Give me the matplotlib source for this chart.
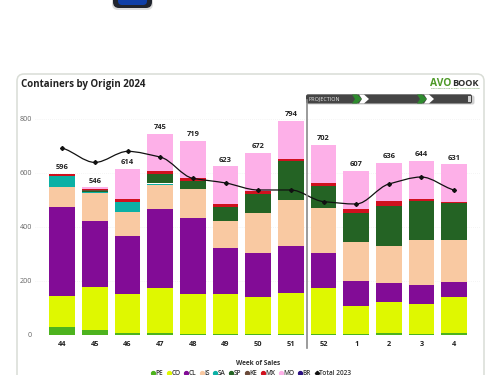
import matplotlib
matplotlib.use("Agg")
import matplotlib.pyplot as plt
from matplotlib.patches import FancyBboxPatch, Polygon, Rectangle
from matplotlib.path import Path
from matplotlib.patches import PathPatch
from matplotlib.lines import Line2D
import numpy as np

plt.rcParams['font.family'] = ['Open Sans', 'DejaVu Sans']

weeks = ['44','45','46','47','48','49','50','51','52','1','2','3','4']
PE = [30,16,6,6,2,3,2,2,2,1,5,1,6]
CO = [114,161,144,167,147,146,139,151,171,104,117,111,135]
CL = [330,245,217,291,284,172,163,175,128,95,69,71,54]
IS = [72,104,89,89,105,100,147,171,167,144,139,166,154]
SA = [43,4,35,7,0,0,0,0,0,0,0,0,0]
SP = [0,2,0,34,32,51,70,144,83,108,148,146,137]
KE = [0,3,0,0,0,0,0,0,0,0,0,0,0]
MX = [7,5,10,11,9,11,10,9,9,13,17,7,4]
MO = [0,6,113,140,140,140,141,141,142,142,141,142,141]
BR = [0,0,0,0,0,0,0,0,0,0,0,0,0]
totals = [596,546,614,745,719,623,672,794,702,607,636,644,631]
total_2023 = [691,638,679,658,579,562,536,536,493,484,558,584,536]
origin_names = ['PE','CO','CL','IS','SA','SP','KE','MX','MO','BR']
origin_values = [PE,CO,CL,IS,SA,SP,KE,MX,MO,BR]
origin_colors = ['#4DB31E','#DFF800','#820C96','#F9C9A2','#0BB0A5','#246324','#6B4A3A','#D0101E','#FDB0E8','#2A0F80']
tick_vals = [0,200,400,600,800]

W, H = 500, 375
fig = plt.figure(figsize=(5,3.75), dpi=100, facecolor='white')

bg = fig.add_axes([0,0,1,1], zorder=0)
bg.set_xlim(0,W); bg.set_ylim(H,0); bg.axis('off')
bg.add_patch(FancyBboxPatch((17,74),467,320,boxstyle='round,pad=0,rounding_size=7',
                            fc='white', ec='#D9DDD6', lw=1.1))
bg.add_patch(FancyBboxPatch((112,-10),41,20,boxstyle='round,pad=0,rounding_size=6',
                            fc='#DDDDDD', ec='none'))
bg.add_patch(FancyBboxPatch((113,-10),39,18,boxstyle='round,pad=0,rounding_size=6',
                            fc='#20242E', ec='none'))
bg.add_patch(FancyBboxPatch((118,-10),29,15,boxstyle='round,pad=0,rounding_size=4',
                            fc='#0F3FA8', ec='none'))
bg.text(21,84,'Containers by Origin 2024',fontsize=7,fontweight='bold',color='#222222',va='center',ha='left')

ax = fig.add_axes([35/W,(H-334.7)/H,445/W,216/H], zorder=1)
ax.patch.set_alpha(0)
ax.set_xlim((35-62.3)/32.65,(480-62.3)/32.65)
ax.set_ylim(0,800)
x = np.arange(len(weeks))
bottom = np.zeros(len(weeks))
for name,vals,c in zip(origin_names,origin_values,origin_colors):
    ax.bar(x,vals,0.79,bottom=bottom,color=c,label=name,zorder=2)
    bottom += np.array(vals)
for s in ax.spines.values():
    s.set_visible(False)
ax.set_yticks(tick_vals)
ax.tick_params(axis='y',length=0,labelsize=5.2,labelcolor='#666666',pad=2)
ax.set_xticks(x,weeks)
ax.tick_params(axis='x',length=0,labelsize=5.3,pad=4.5)
for l in ax.get_xticklabels():
    l.set_fontweight('bold'); l.set_color('#222222')
ax.grid(axis='y',color='#EBEBEB',lw=0.5,ls=(0,(1,2)),zorder=0)
ax.set_axisbelow(True)
for xi,t in zip(x,totals):
    ax.annotate(str(t),(xi,t),xytext=(0,2.0),textcoords='offset points',ha='center',va='bottom',
                fontsize=5.4,fontweight='bold',color='#222222',zorder=5)

# smooth monotone curve through the yearly values
y = np.array(total_2023,float)
m = np.zeros(len(y))
for i in range(1,len(y)-1):
    d0, d1 = y[i]-y[i-1], y[i+1]-y[i]
    if d0*d1 > 0:
        m[i] = np.sign(d0)*min(abs(d0),abs(d1),abs(d0+d1)/2)*1.2
m[0] = (y[1]-y[0])*0.6
m[-1] = (y[-1]-y[-2])*0.6
verts=[(x[0],y[0])]; codes=[Path.MOVETO]
for i in range(len(x)-1):
    verts += [(x[i]+1/3,y[i]+m[i]/3),(x[i+1]-1/3,y[i+1]-m[i+1]/3),(x[i+1],y[i+1])]
    codes += [Path.CURVE4]*3
ax.add_patch(PathPatch(Path(verts,codes),fc='none',ec='#111111',lw=0.9,zorder=4))
ax.plot(x,y,ls='none',marker='D',ms=2.0,color='#111111',zorder=5)

fg = fig.add_axes([0,0,1,1], zorder=2)
fg.set_xlim(0,W); fg.set_ylim(H,0); fg.axis('off'); fg.patch.set_alpha(0)
fg.plot([307,307],[100,348],color='#8A8A8A',lw=1.2)
fg.add_patch(FancyBboxPatch((307,95.5),167.5,9,boxstyle='round,pad=0,rounding_size=2',
                            fc='#BDBDBD',ec='none',alpha=.7))
fg.add_patch(FancyBboxPatch((306,94.3),166,9.2,boxstyle='round,pad=0,rounding_size=2',
                            fc='#454545',ec='none'))
fg.text(308.5,98.9,'PROJECTION',fontsize=3.9,color='#E8E8E8',va='center',ha='left')
for x0 in (352,417):
    fg.add_patch(Polygon([(x0,94.5),(x0+5,94.5),(x0+10,99),(x0+5,103.5),(x0,103.5),(x0+3,99)],fc='#2E8B2E',ec='none'))
    fg.add_patch(Polygon([(x0+7,94.5),(x0+12,94.5),(x0+17,99),(x0+12,103.5),(x0+7,103.5),(x0+10,99)],fc='white',ec='none'))
fg.add_patch(Rectangle((468,95.5),3,6.5,fc='#CFCFCF',ec='none'))
fg.text(430,84,'AVO',fontsize=7.4,fontweight='bold',color='#4E9A28',va='center',ha='left')
fg.text(452,84,'BOOK',fontsize=6.6,fontweight='bold',color='#2B2B2B',va='center',ha='left')
fg.text(455,88.8,'CONNECTING THE GLOBAL AVOCADO WORLD',fontsize=1.6,color='#3A7A20',va='center',ha='center')
fg.text(258.5,363.5,'Week of Sales',fontsize=4.7,fontweight='bold',color='#333333',va='center',ha='center')

handles = [Line2D([],[],ls='none',marker='o',ms=2.8,color=c,label=n) for n,c in zip(origin_names,origin_colors)]
handles.append(Line2D([],[],ls='none',marker='D',ms=2.2,color='#111111',label='Total 2023'))
leg = fg.legend(handles=handles,loc='center',bbox_to_anchor=(250.5,373.4),bbox_transform=fg.transData,
                ncol=11,frameon=False,fontsize=4.7,columnspacing=0.35,handletextpad=-0.1,handlelength=1.0,
                borderpad=0,labelcolor='#333333')
for t in leg.get_texts():
    t.set_fontweight('semibold')
fig.savefig('out.png',dpi=100)
